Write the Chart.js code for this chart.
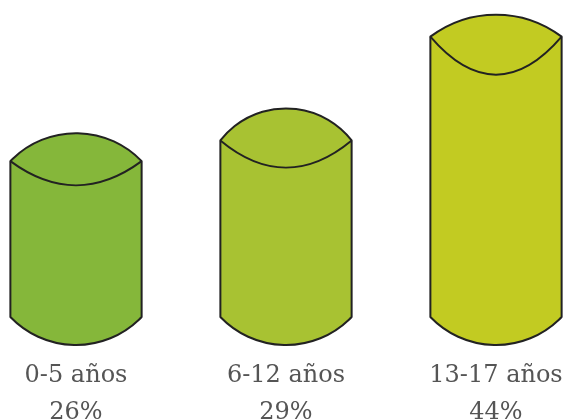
<!DOCTYPE html>
<html>
<head>
<meta charset="utf-8">
<script src="https://cdn.jsdelivr.net/npm/chart.js@4/dist/chart.umd.min.js"></script>
<style>
  html, body { margin: 0; padding: 0; background: #fff; }
  canvas { display: block; }
</style>
</head>
<body>
<canvas id="c" width="569" height="419"></canvas>
<script>
// datos
let ageGroups = ['0-5 años', '6-12 años', '13-17 años'];
let shares = [26, 29, 44];
let shareLabels = ['26%', '29%', '44%'];

// estilo de cada cilindro
let fills = ['#85b73a', '#a8c232', '#c2cb22'];
let capRise = [28, 32, 22];   // arco de arriba
let capSag = [24, 27, 38];    // curva interior de la tapa

function arcUp(ctx, x0, x1, y, s) {
  // arco hacia arriba de x1 a x0
  let hw = (x1 - x0) / 2;
  let R = (hw * hw + s * s) / (2 * s);
  let cx = x0 + hw, cy = y - s + R;
  ctx.arc(cx, cy, R, Math.atan2(y - cy, hw), Math.atan2(y - cy, -hw), true);
}

function arcDown(ctx, x0, x1, y, s) {
  // arco hacia abajo de x0 a x1
  let hw = (x1 - x0) / 2;
  let R = (hw * hw + s * s) / (2 * s);
  let cx = x0 + hw, cy = y + s - R;
  ctx.arc(cx, cy, R, Math.atan2(y - cy, -hw), Math.atan2(y - cy, hw), true);
}

const cylinders = {
  id: 'cylinders',
  afterDatasetsDraw(chart) {
    const ctx = chart.ctx;
    const meta = chart.getDatasetMeta(0);
    meta.data.forEach((bar, i) => {
      const p = bar.getProps(['x', 'y', 'base', 'width'], true);
      const x0 = p.x - p.width / 2, x1 = p.x + p.width / 2;
      const top = p.y;
      const yb = p.base - 24;
      ctx.save();
      ctx.lineWidth = 2;
      ctx.strokeStyle = '#222';
      ctx.lineJoin = 'round';
      ctx.beginPath();
      ctx.moveTo(x0, top);
      ctx.lineTo(x0, yb);
      arcDown(ctx, x0, x1, yb, 28);
      ctx.lineTo(x1, top);
      arcUp(ctx, x0, x1, top, capRise[i]);
      ctx.closePath();
      ctx.fillStyle = fills[i];
      ctx.fill();
      ctx.stroke();
      // curva interior
      const k = capSag[i] / 0.75;
      ctx.beginPath();
      ctx.moveTo(x0, top);
      ctx.bezierCurveTo(x0 + p.width * 0.33, top + k, x1 - p.width * 0.33, top + k, x1, top);
      ctx.stroke();
      ctx.restore();
    });
  }
};

new Chart(document.getElementById('c').getContext('2d'), {
  type: 'bar',
  data: {
    labels: ageGroups.map((g, i) => [g, shareLabels[i]]),
    datasets: [{
      data: shares,
      backgroundColor: 'rgba(0,0,0,0)',
      borderWidth: 0,
      categoryPercentage: 1,
      barPercentage: 0.625
    }]
  },
  options: {
    responsive: false,
    animation: false,
    layout: { padding: { top: 9, left: 76, right: 73, bottom: 0 } },
    plugins: { legend: { display: false }, tooltip: { enabled: false } },
    scales: {
      x: {
        offset: false,
        grid: { display: false, drawTicks: true, tickLength: 16 },
        border: { display: false },
        ticks: {
          color: '#555',
          padding: 0,
          maxRotation: 0,
          autoSkip: false,
          font: { family: '"DejaVu Serif", serif', size: 24, lineHeight: 1.54 }
        },
        afterFit(scale) { scale.height = 78; }
      },
      y: {
        display: false,
        min: 0,
        max: 48
      }
    }
  },
  plugins: [cylinders]
});
</script>
</body>
</html>
